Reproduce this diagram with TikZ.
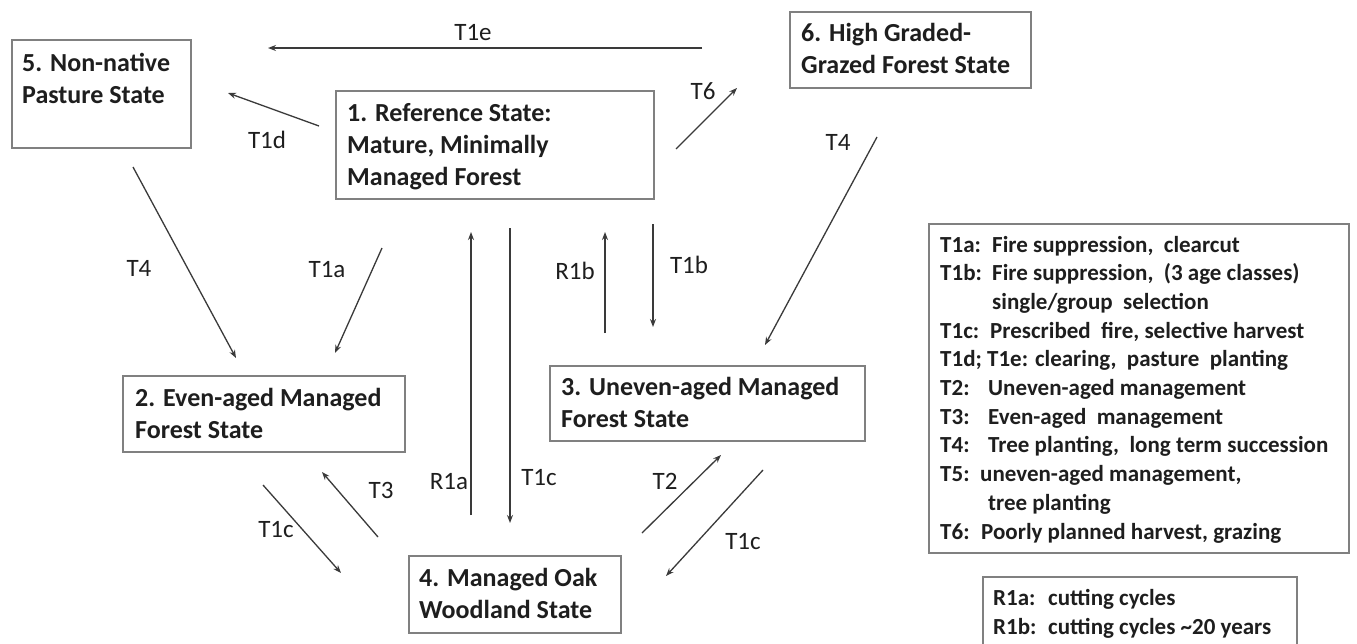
\documentclass[tikz,border=0pt]{standalone}
\usepackage{fontspec}
\setmainfont{Carlito}
\usetikzlibrary{arrows.meta,calc}
\definecolor{boxgray}{HTML}{808080}
\definecolor{arrgray}{HTML}{3A3A3A}
\definecolor{txt}{HTML}{1E1E1E}
\newcommand{\lgl}[2]{\makebox[#1pt][l]{#2}}
\begin{document}
\begin{tikzpicture}[x=1pt,y=-1pt,
  box/.style={draw=boxgray,line width=1.8pt,inner sep=0,fill=none},
  btext/.style={font=\bfseries\fontsize{26}{32}\selectfont,align=left,anchor=base west,inner sep=0,text=txt},
  lab/.style={font=\fontsize{25}{30}\selectfont,inner sep=0,text=txt},
  arr/.style={draw=arrgray,line width=1.3pt,-{Stealth[length=8pt,width=6pt]}},
  leg/.style={font=\bfseries\fontsize{23}{28.7}\selectfont,align=left,anchor=base west,inner sep=0,text=txt}]
\useasboundingbox (0,0) rectangle (1357,643);
\fill[white] (0,0) rectangle (1357,643);

% state boxes
\node[box,minimum width=179,minimum height=108] (n5) at (101.5,94) {};
\node[box,minimum width=318,minimum height=108] (n1) at (495,145) {};
\node[box,minimum width=241,minimum height=76] (n6) at (910.5,50) {};
\node[box,minimum width=282,minimum height=76] (n2) at (264,414) {};
\node[box,minimum width=315,minimum height=75] (n3) at (707.5,403.5) {};
\node[box,minimum width=212,minimum height=77] (n4) at (515,594.5) {};
\node[box,minimum width=420,minimum height=329] (lg) at (1139,388.5) {};
\node[box,minimum width=314,minimum height=88] (rg) at (1140,621) {};

% box texts (anchor = baseline of the last line)
\node[btext] (t5) at (22,103) {5. Non-native\\Pasture State};
\node[btext] (t1) at (347,185) {1. Reference State:\\Mature, Minimally\\Managed Forest};
\node[btext] (t6) at (801,73) {6. High Graded-\\Grazed Forest State};
\node[btext] (t2) at (135,438) {2. Even-aged Managed\\Forest State};
\node[btext] (t3) at (561,427) {3. Uneven-aged Managed\\Forest State};
\node[btext] (t4) at (419,618) {4. Managed Oak\\Woodland State};

% legends
\node[leg] (lgt) at (940,539) {\lgl{52}{T1a:}Fire suppression,\ \ clearcut\\
\lgl{52}{T1b:}Fire suppression,\ \ (3 age classes)\\
\hspace*{52pt}single/group\ \ selection\\
\lgl{50}{T1c:}Prescribed\ \ fire, selective harvest\\
T1d; T1e: clearing,\ \ pasture\ \ planting\\
\lgl{48}{T2:}Uneven-aged management\\
\lgl{48}{T3:}Even-aged\ \ management\\
\lgl{48}{T4:}Tree planting,\ \ long term succession\\
\lgl{40}{T5:}uneven-aged management,\\
\hspace*{48pt}tree planting\\
\lgl{41}{T6:}Poorly planned harvest, grazing};
\node[leg] (rgt) at (993,634) {\lgl{55}{R1a:}cutting cycles\\
\lgl{55}{R1b:}cutting cycles \textasciitilde20 years};

% arrow end points
\coordinate (e1a) at (702,48);  \coordinate (e1b) at (268,48);
\coordinate (d1a) at (319,126); \coordinate (d1b) at (228,93);
\coordinate (s6a) at (676,149); \coordinate (s6b) at (737,88);
\coordinate (f4a) at (133,167); \coordinate (f4b) at (236,358);
\coordinate (a1a) at (382,248); \coordinate (a1b) at (335,353);
\coordinate (g4a) at (877,137); \coordinate (g4b) at (765,345);
\coordinate (r1ba) at (605,333); \coordinate (r1bb) at (605,232);
\coordinate (b1a) at (653,224); \coordinate (b1b) at (653,327);
\coordinate (r1aa) at (471,515); \coordinate (r1ab) at (471,232);
\coordinate (c1a) at (510,228); \coordinate (c1b) at (510,523);
\coordinate (t3a) at (378,537); \coordinate (t3b) at (322,472);
\coordinate (cla) at (263,485); \coordinate (clb) at (341,573);
\coordinate (t2a) at (642,533); \coordinate (t2b) at (721,455);
\coordinate (cra) at (763,470); \coordinate (crb) at (666,576);

\draw[arr] (e1a) -- (e1b);
\draw[arr] (d1a) -- (d1b);
\draw[arr] (s6a) -- (s6b);
\draw[arr] (f4a) -- (f4b);
\draw[arr] (a1a) -- (a1b);
\draw[arr] (g4a) -- (g4b);
\draw[arr] (r1ba) -- (r1bb);
\draw[arr] (b1a) -- (b1b);
\draw[arr] (r1aa) -- (r1ab);
\draw[arr] (c1a) -- (c1b);
\draw[arr] (t3a) -- (t3b);
\draw[arr] (cla) -- (clb);
\draw[arr] (t2a) -- (t2b);
\draw[arr] (cra) -- (crb);

% labels
\node[lab] (l1e) at (473,33) {T1e};
\node[lab] (l1d) at (267,140) {T1d};
\node[lab] (l6) at (703,91) {T6};
\node[lab] (l4a) at (139,268) {T4};
\node[lab] (l1a) at (327,270) {T1a};
\node[lab] (l4b) at (838,142) {T4};
\node[lab] (lr1b) at (575,271) {R1b};
\node[lab] (l1b) at (689,265) {T1b};
\node[lab] (lr1a) at (449,482) {R1a};
\node[lab] (l1cm) at (539,478) {T1c};
\node[lab] (l3) at (381,490) {T3};
\node[lab] (l1cl) at (276,530) {T1c};
\node[lab] (l2) at (665,481) {T2};
\node[lab] (l1cr) at (743,542) {T1c};
\end{tikzpicture}
\end{document}
